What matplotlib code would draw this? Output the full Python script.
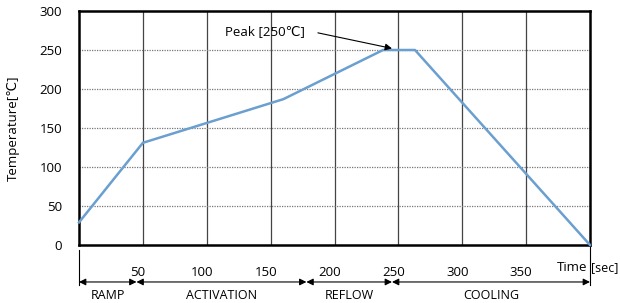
import matplotlib.pyplot as plt
import matplotlib.transforms as mtransforms

# ========= reflow temperature profile =========

time_s = [0, 50, 160, 238, 263, 400]
temp_c = [29, 131, 187, 250, 250, 0]

x_ticks = [50, 100, 150, 200, 250, 300, 350]
y_ticks = [0, 50, 100, 150, 200, 250, 300]

phase_names = ['RAMP', 'ACTIVATION', 'REFLOW', 'COOLING']
phase_edges = [0, 45, 178, 245, 400]

plt.rcParams['font.family'] = ['Open Sans', 'DejaVu Sans']

fig = plt.figure(figsize=[6.2, 3.03], dpi=100)
ax = fig.add_axes([79 / 620, 58 / 303, 511 / 620, 234 / 303])

ax.plot(time_s, temp_c, c='#6a9fd0', lw=1.8, clip_on=False, zorder=3)

ax.set_xlim(0, 400)
ax.set_ylim(0, 300)

# grid: solid vertical, dotted horizontal
for v in x_ticks:
    ax.axvline(v, c='#444444', lw=0.9, zorder=1)
for h in y_ticks[1:-1]:
    ax.axhline(h, c='#777777', lw=0.9, ls=(0, (1, 1)), zorder=1)

for s in ax.spines.values():
    s.set_color('black')
    s.set_linewidth(1.8)

ax.set_yticks(y_ticks)
ax.tick_params(axis='y', length=0, pad=12, labelsize=9.5)
ax.set_xticks(x_ticks)
ax.set_xticklabels([str(v) for v in x_ticks])
ax.tick_params(axis='x', length=0, pad=15, labelsize=9.5)
shift = mtransforms.ScaledTranslation(-5 / 100, 0, fig.dpi_scale_trans)
for lbl in ax.get_xticklabels():
    lbl.set_transform(lbl.get_transform() + shift)

ax.set_ylabel('Temperature[℃]', fontsize=9.5, labelpad=14)

trans = ax.get_xaxis_transform()
ax.text(398, -0.095, 'Time', transform=trans, ha='right', va='center', fontsize=9.5)
ax.text(401, -0.095, '[sec]', transform=trans, ha='left', va='center', fontsize=9)

# phase arrows under the axis
ax.plot([0, 0], [-0.021, -0.171], transform=trans, c='black', lw=0.8, clip_on=False)
ax.plot([400, 400], [-0.009, -0.171], transform=trans, c='black', lw=0.8, clip_on=False)
for name, a, b in zip(phase_names, phase_edges[:-1], phase_edges[1:]):
    ax.annotate('', xy=(b, -0.158), xytext=(a, -0.158), xycoords=trans, textcoords=trans,
                arrowprops=dict(arrowstyle='<|-|>', color='black', lw=0.8,
                                mutation_scale=10, shrinkA=0, shrinkB=0))
    ax.text((a + b) / 2, -0.214, name, transform=trans, ha='center', va='center', fontsize=9)

# peak callout
ax.annotate('', xy=(245, 252), xytext=(187, 272),
            arrowprops=dict(arrowstyle='-|>', color='black', lw=0.8,
                            mutation_scale=10, shrinkA=0, shrinkB=0))
ax.text(177, 273, 'Peak [250℃]', ha='right', va='center', fontsize=9.5)

plt.savefig('out.png')
plt.close(fig)
